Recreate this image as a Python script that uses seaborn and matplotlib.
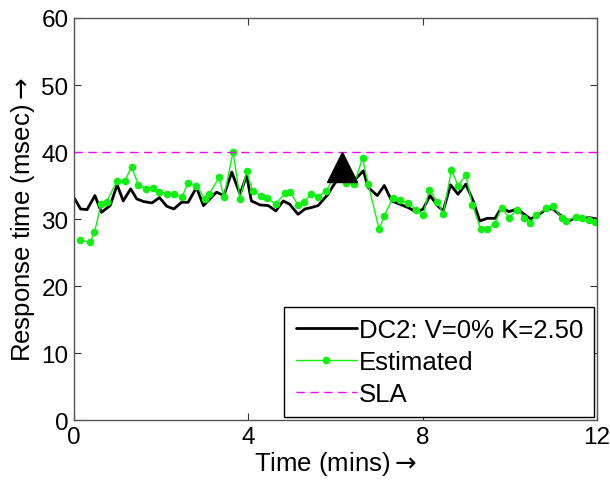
import matplotlib
matplotlib.use("Agg")
import matplotlib.pyplot as plt
import seaborn as sns
import numpy as np

# ---- data ----
dc2_time = [0.0, 0.15, 0.30, 0.48, 0.63, 0.83, 0.99, 1.13, 1.30, 1.44, 1.60, 1.79, 1.96,
            2.13, 2.29, 2.47, 2.62, 2.81, 2.97, 3.12, 3.27, 3.44, 3.62, 3.81, 3.96, 4.07,
            4.27, 4.46, 4.63, 4.80, 4.95, 5.14, 5.30, 5.44, 5.60, 5.83, 5.95, 6.14, 6.33,
            6.48, 6.64, 6.75, 6.96, 7.12, 7.29, 7.48, 7.67, 7.86, 8.01, 8.17, 8.34, 8.47,
            8.64, 8.81, 8.99, 9.16, 9.31, 9.48, 9.66, 9.81, 9.98, 10.17, 10.33, 10.48,
            10.65, 10.84, 10.99, 11.19, 11.35, 11.51, 11.68, 11.83, 12.0]
dc2_resp = [33.2, 31.5, 31.4, 33.5, 31.0, 32.0, 35.1, 32.7, 34.5, 33.0, 32.6, 32.4, 33.2,
            31.9, 31.5, 32.5, 32.5, 34.7, 32.0, 33.0, 34.0, 33.5, 37.0, 33.7, 36.5, 32.7,
            32.1, 32.0, 31.2, 32.7, 32.2, 30.7, 31.5, 31.7, 32.0, 33.7, 35.0, 36.8, 36.2,
            36.1, 37.2, 34.7, 33.5, 35.0, 32.7, 32.2, 31.7, 31.0, 31.5, 33.5, 32.0, 31.2,
            35.1, 33.7, 35.2, 32.7, 29.7, 30.1, 30.1, 31.7, 31.1, 31.5, 30.7, 30.0,
            30.6, 31.5, 31.5, 30.4, 29.7, 30.2, 30.1, 30.2, 30.0]

est_time = [0.14, 0.37, 0.47, 0.62, 0.75, 0.99, 1.17, 1.32, 1.48, 1.65, 1.82, 1.96, 2.14,
            2.29, 2.48, 2.61, 2.81, 3.00, 3.10, 3.33, 3.44, 3.65, 3.81, 3.96, 4.10, 4.29,
            4.43, 4.63, 4.84, 4.95, 5.14, 5.28, 5.44, 5.59, 5.78, 5.95, 6.10, 6.24, 6.43,
            6.62, 6.75, 7.00, 7.12, 7.32, 7.48, 7.67, 7.85, 8.01, 8.15, 8.34, 8.47, 8.66,
            8.81, 8.99, 9.14, 9.33, 9.48, 9.66, 9.81, 9.98, 10.17, 10.33, 10.46, 10.61,
            10.84, 10.98, 11.19, 11.30, 11.51, 11.65, 11.81, 11.95]
est_resp = [26.9, 26.5, 28.0, 32.2, 32.6, 35.7, 35.7, 37.8, 35.1, 34.5, 34.6, 34.1, 33.7,
            33.7, 33.3, 35.3, 35.0, 33.0, 33.7, 36.2, 33.3, 40.0, 33.0, 37.1, 34.2, 33.4,
            33.1, 32.2, 33.9, 34.1, 32.1, 32.5, 33.8, 33.3, 34.2, 36.0, 37.0, 35.4, 35.2,
            39.1, 35.2, 28.5, 30.5, 33.2, 32.8, 32.4, 31.4, 30.6, 34.4, 32.5, 30.8, 37.3,
            35.0, 36.5, 32.1, 28.5, 28.5, 29.3, 31.7, 30.2, 31.4, 30.2, 29.4, 30.6,
            31.6, 31.9, 30.2, 29.7, 30.3, 30.1, 29.9, 29.6]

sla_value = 40
event_time = [6.14]
event_resp = [37.8]

x_ticks = [0, 4, 8, 12]
y_ticks = [0, 10, 20, 30, 40, 50, 60]

# ---- style ----
sns.set_style("ticks")
plt.rcParams['font.family'] = ['Liberation Sans', 'DejaVu Sans']
plt.rcParams['mathtext.fontset'] = 'dejavusans'
plt.rcParams['text.color'] = 'black'
plt.rcParams['axes.labelcolor'] = 'black'
plt.rcParams['xtick.labelcolor'] = 'black'
plt.rcParams['ytick.labelcolor'] = 'black'
FS_TICK = 17.5
FS = 18.5

fig = plt.figure(figsize=(6.10, 4.81), dpi=100)
ax = fig.add_axes([0.1213, 0.1247, 0.8574, 0.8358])

sns.lineplot(x=dc2_time, y=dc2_resp, ax=ax, color='black', linewidth=2.0,
             estimator=None, sort=False, label='DC2: V=0% K=2.50')
sns.lineplot(x=est_time, y=est_resp, ax=ax, color='#10f010', linewidth=1.0,
             marker='o', markersize=5.5, markeredgewidth=0, markerfacecolor='#10f010',
             estimator=None, sort=False, label='Estimated')
ax.axhline(sla_value, color='#ff00ff', linewidth=1.0, dashes=(6, 4), label='SLA')
ax.plot(event_time, event_resp, linestyle='none', marker='^', markersize=21,
        color='black', label='_nolegend_', zorder=5)

ax.set_xlim(0, 12)
ax.set_ylim(0, 60)
ax.set_xticks(x_ticks)
ax.set_yticks(y_ticks)
ax.tick_params(direction='in', length=5, width=0.8, labelsize=FS_TICK, top=True, right=True,
               color='#333333', labelcolor='black', pad=4)
for s in ax.spines.values():
    s.set_visible(True)
    s.set_color('#555555')
    s.set_linewidth(1.0)

ax.set_xlabel(r'Time (mins)$\rightarrow$', fontsize=FS, labelpad=1, color='black')
ax.set_ylabel(r'Response time (msec)$\rightarrow$', fontsize=FS, labelpad=3, color='black')

leg = ax.legend(loc='lower right', fontsize=FS, frameon=True, fancybox=False,
                edgecolor='black', framealpha=1, handlelength=2.4, handletextpad=0.05,
                borderaxespad=0.1, borderpad=0.45, labelspacing=0.3)
leg.get_frame().set_linewidth(1.0)
for t in leg.get_texts():
    t.set_color('black')

fig.savefig('out.png', dpi=100)
